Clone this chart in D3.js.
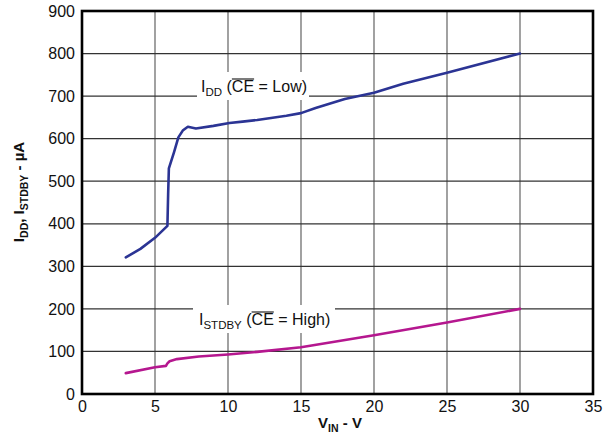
<!DOCTYPE html>
<html><head><meta charset="utf-8">
<script src="https://cdn.jsdelivr.net/npm/d3@7"></script>
<style>body{margin:0;background:#fff}text{font-family:"Liberation Sans",Arial,sans-serif}</style>
</head><body><svg id="c" width="613" height="438"></svg>
<script>
const xTicks = [0,5,10,15,20,25,30,35];
const yTicks = [0,100,200,300,400,500,600,700,800,900];
const iddX = [3.0,4.0,5.0,5.85,5.9,5.95,6.3,6.6,6.9,7.25,7.8,9.0,10.1,11.0,12.0,14.0,15.0,16.0,18.0,20.0,22.0,25.0,30.0];
const iddY = [321,341,367,395,470,530,568,603,619,628,624,630,637,640,644,654,660,672,693,708,729,755,800];
const stbX = [3.0,5.0,5.75,5.85,6.0,6.5,8.0,10.0,12.0,15.0,20.0,25.0,30.0];
const stbY = [49,63,66,72,77,82,88,93,99,110,138,168,200];

const svg = d3.select("#c");
const m = {l:82,t:11,r:593,b:394};
const x = d3.scaleLinear().domain([0,35]).range([m.l,m.r]);
const y = d3.scaleLinear().domain([0,900]).range([m.b,m.t]);

svg.append("g").selectAll("line").data(xTicks.slice(1,-1)).join("line")
  .attr("x1",d=>x(d)).attr("x2",d=>x(d)).attr("y1",m.t).attr("y2",m.b)
  .attr("stroke","#7a7a7a").attr("stroke-width",1.4);
svg.append("g").selectAll("line").data(yTicks.slice(1,-1)).join("line")
  .attr("x1",m.l).attr("x2",m.r).attr("y1",d=>y(d)).attr("y2",d=>y(d))
  .attr("stroke","#333").attr("stroke-width",1.3);

const xa = svg.append("g").attr("transform",`translate(0,${m.b})`)
  .call(d3.axisBottom(x).tickValues(xTicks).tickSize(0).tickPadding(7));
const ya = svg.append("g").attr("transform",`translate(${m.l},0)`)
  .call(d3.axisLeft(y).tickValues(yTicks).tickSize(0).tickPadding(7));
[xa,ya].forEach(a=>{a.select(".domain").remove();a.selectAll("text").attr("font-size",16).attr("fill","#111").attr("font-family","Liberation Sans, Arial, sans-serif");});

svg.append("rect").attr("x",m.l).attr("y",m.t).attr("width",m.r-m.l).attr("height",m.b-m.t)
  .attr("fill","none").attr("stroke","#000").attr("stroke-width",2.6);

const lineL = d3.line().x(d=>x(d[0])).y(d=>y(d[1]));
svg.append("path").datum(iddX.map((v,i)=>[v,iddY[i]])).attr("d",lineL)
  .attr("fill","none").attr("stroke","#2b3494").attr("stroke-width",2.6).attr("stroke-linejoin","round").attr("stroke-linecap","round");
svg.append("path").datum(stbX.map((v,i)=>[v,stbY[i]])).attr("d",lineL)
  .attr("fill","none").attr("stroke","#b5178f").attr("stroke-width",2.6).attr("stroke-linejoin","round").attr("stroke-linecap","round");

function label(px,py,sub,state,bx,bw){
  svg.append("rect").attr("x",bx).attr("y",py-20).attr("width",bw).attr("height",28).attr("fill","#fff");
  const t = svg.append("text").attr("x",px).attr("y",py).attr("font-size",16).attr("fill","#111");
  t.append("tspan").text("I");
  t.append("tspan").attr("font-size",11.5).attr("dy",4).text(sub);
  t.append("tspan").attr("dy",-4).text(" (");
  t.append("tspan").text("CE");
  t.append("tspan").text(" = "+state+")");
  const node = t.node();
  const full = "I"+sub+" (CE";
  const i0 = full.length-2;
  const a = node.getStartPositionOfChar(i0).x, b = node.getEndPositionOfChar(i0+1).x;
  svg.append("line").attr("x1",a).attr("x2",b).attr("y1",py-13).attr("y2",py-13)
    .attr("stroke","#111").attr("stroke-width",1.1);
}
label(201,92,"DD","Low",197,112);
label(199,325,"STDBY","High",193,142);

const yt = svg.append("text").attr("transform","translate(24,192) rotate(-90)").attr("text-anchor","middle")
  .attr("font-size",15).attr("font-weight","bold").attr("fill","#111");
yt.append("tspan").text("I");
yt.append("tspan").attr("font-size",10.5).attr("dy",4).text("DD");
yt.append("tspan").attr("dy",-4).text(", I");
yt.append("tspan").attr("font-size",10.5).attr("dy",4).text("STDBY");
yt.append("tspan").attr("dy",-4).text(" - µA");
const xt = svg.append("text").attr("x",340).attr("y",428).attr("text-anchor","middle")
  .attr("font-size",15).attr("font-weight","bold").attr("fill","#111");
xt.append("tspan").text("V");
xt.append("tspan").attr("font-size",10.5).attr("dy",4).text("IN");
xt.append("tspan").attr("dy",-4).text(" - V");
</script></body></html>
